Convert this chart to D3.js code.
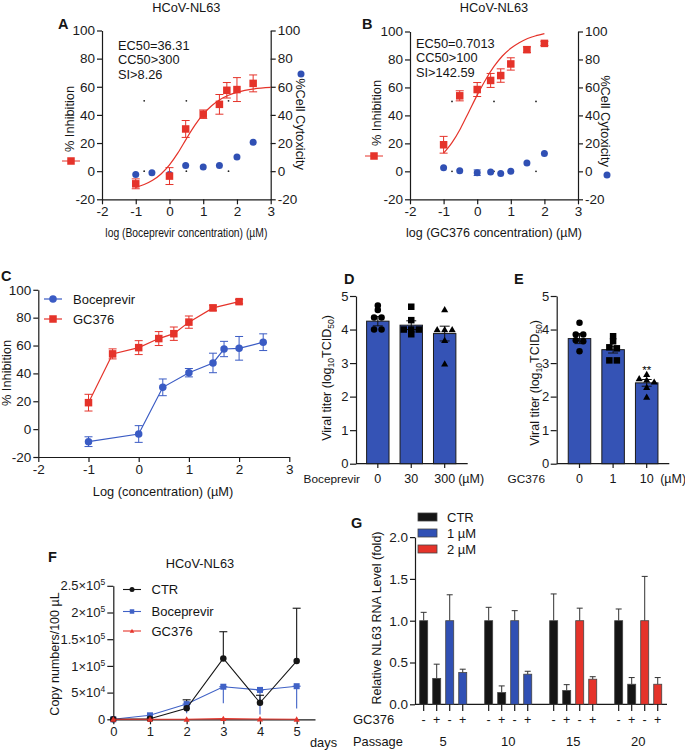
<!DOCTYPE html>
<html>
<head>
<meta charset="utf-8">
<script src="https://cdn.jsdelivr.net/npm/d3@7"></script>
<style>body{margin:0;background:#fff}</style>
</head>
<body>
<div id="chart"></div>
<script>
const FONT = '"Liberation Sans", Arial, Helvetica, sans-serif'
const RED = '#e5332a', BLUE = '#3050b4', BLACK = '#151515'
const TICK = 13.5

// ---- Boceprevir dose response (A, C) ----
const bocLog = [-1, 0, 0.48, 1, 1.48, 1.7, 2, 2.48]
const bocInhib = [-9, -3.5, 30, 40.5, 47.5, 57.5, 58, 62.4]
const bocInhibErr = [3.5, 6, 6, 3, 7, 5.5, 8.5, 6]
const bocToxLog = [-1, -0.52, 0, 0.48, 1, 1.48, 2, 2.48]
const bocTox = [-2.4, -1.2, -2.4, 4, 3, 4, 10, 20.5]
const bocFitLog = [-1, -0.75, -0.5, -0.25, 0, 0.25, 0.5, 0.75, 1, 1.25, 1.5, 1.75, 2, 2.5, 3]
const bocFit = [-11.5, -9.5, -6.5, -2, 4.5, 13, 23, 32.5, 40.5, 46.5, 51, 54, 56, 58.5, 59.5]
const bocStats = ['EC50=36.31', 'CC50>300', 'SI>8.26']

// ---- GC376 dose response (B, C) ----
const gcLog = [-1, -0.52, 0, 0.4, 0.7, 1, 1.48, 2]
const gcInhib = [19, 54, 58.5, 65, 68.5, 76.8, 87, 91.5]
const gcInhibErr = [6, 3.6, 5, 5, 4.8, 4.4, 2, 1.5]
const gcTox = [2.6, 0.5, -1, -0.5, -1.5, 0, 6, 12.7]
const gcToxErr = [0, 0, 2, 0, 0, 0, 0, 0]
const gcFitLog = [-1, -0.75, -0.5, -0.25, 0, 0.25, 0.5, 0.75, 1, 1.25, 1.5, 1.75, 2]
const gcFit = [13, 20.5, 30.5, 42.5, 54.5, 65.5, 75, 82.5, 88, 92, 95, 97, 98.5]
const gcStats = ['EC50=0.7013', 'CC50>100', 'SI>142.59']

// stray dots printed by the plotting software
const strayLog = [-0.75, 0.5, 1.75]
const strayVal = [0, 50]

// ---- viral titer (D, E) ----
const bocDoses = ['0', '30', '300']
const bocTiter = [4.25, 4.13, 3.88]
const bocTiterErr = [0.14, 0.13, 0.22]
const bocTiterPts = [[4.72, 4.58, 4.36, 4.36, 4.0, 4.0], [4.68, 4.28, 4.0, 4.0, 4.0, 3.86], [4.6, 4.0, 4.0, 4.0, 3.68, 2.98]]
const gcDoses = ['0', '1', '10']
const gcTiter = [3.73, 3.4, 2.41]
const gcTiterErr = [0.15, 0.1, 0.1]
const gcTiterPts = [[4.2, 3.85, 3.85, 3.68, 3.65, 3.35], [3.8, 3.65, 3.47, 3.44, 3.08, 3.08], [2.67, 2.54, 2.5, 2.44, 2.28, 1.99]]
const titerMarks = ['circle', 'square', 'triangle']

// ---- copy numbers (F) ----
const days = [0, 1, 2, 3, 4, 5]
const ctrCopies = [0, 1000, 20500, 114000, 31000, 109000]
const ctrErrUp = [0, 0, 16000, 50000, 14000, 99000]
const bocCopies = [0, 7500, 28500, 61000, 55000, 62000]
const bocErrDown = [0, 0, 17000, 31000, 46000, 42000]
const gcCopies = [0, 0, 0, 1200, 500, 0]
const copyTicks = [0, 5e4, 1e5, 1.5e5, 2e5, 2.5e5]

// ---- passage RNA level (G) ----
const passages = ['5', '10', '15', '20']
const gcSign = ['-', '+', '-', '+']
const passageDose = ['1 µM', '1 µM', '2 µM', '2 µM']
const rnaLevel = [[1.0, 0.31, 1.0, 0.38], [1.0, 0.14, 1.0, 0.36], [1.0, 0.165, 1.0, 0.30], [1.0, 0.24, 1.0, 0.24]]
const rnaErr = [[0.10, 0.17, 0.31, 0.04], [0.16, 0.08, 0.12, 0.035], [0.32, 0.07, 0.15, 0.03], [0.14, 0.08, 0.53, 0.08]]
const gLegend = ['CTR', '1 µM', '2 µM']
const gColor = {'CTR': BLACK, '1 µM': '#3050b4', '2 µM': '#e5332a'}

const svg = d3.select('#chart').append('svg')
  .attr('width', 685).attr('height', 750)
  .style('font-family', FONT)

function styleAxis(sel, size = TICK) {
  sel.attr('font-family', FONT).attr('font-size', size)
  sel.selectAll('path,line').attr('stroke', '#1a1a1a').attr('stroke-width', 1.2)
  sel.selectAll('text').attr('fill', '#1a1a1a')
}

function txt(g, x, y, s, o = {}) {
  return g.append('text').attr('x', x).attr('y', y).text(s)
    .attr('font-size', o.size || 12.5)
    .attr('font-weight', o.bold ? 'bold' : null)
    .attr('text-anchor', o.anchor || 'start')
    .attr('fill', o.fill || BLACK)
}

// rotated text centred on (cx, cy)
function vtxt(g, cx, cy, s, rot, size = 12.5) {
  return g.append('text')
    .attr('transform', `translate(${cx},${cy}) rotate(${rot})`)
    .attr('text-anchor', 'middle').attr('dy', '0.35em')
    .attr('font-size', size).attr('fill', BLACK).text(s)
}

function errBar(g, cx, y1, y2, cap, color, sw, caps = 'both') {
  g.append('line').attr('x1', cx).attr('x2', cx).attr('y1', y1).attr('y2', y2)
    .attr('stroke', color).attr('stroke-width', sw)
  if (caps !== 'bottom')
    g.append('line').attr('x1', cx - cap / 2).attr('x2', cx + cap / 2).attr('y1', y1).attr('y2', y1)
      .attr('stroke', color).attr('stroke-width', sw)
  if (caps !== 'top')
    g.append('line').attr('x1', cx - cap / 2).attr('x2', cx + cap / 2).attr('y1', y2).attr('y2', y2)
      .attr('stroke', color).attr('stroke-width', sw)
}

function marker(g, shape, cx, cy, size, color) {
  if (shape === 'circle')
    g.append('circle').attr('cx', cx).attr('cy', cy).attr('r', size / 2).attr('fill', color)
  else if (shape === 'square')
    g.append('rect').attr('x', cx - size / 2).attr('y', cy - size / 2)
      .attr('width', size).attr('height', size).attr('fill', color)
  else
    g.append('path').attr('transform', `translate(${cx},${cy + size * 0.1})`)
      .attr('d', d3.symbol(d3.symbolTriangle, size * size * 0.45)()).attr('fill', color)
}

// ---------- A and B ----------
function doseResponse(p) {
  const g = svg.append('g')
  const x = d3.scaleLinear().domain([-2, 3]).range([p.x0, p.x1])
  const y = d3.scaleLinear().domain([-20, 100]).range([199.3, p.yTop])
  const yt = [-20, 0, 20, 40, 60, 80, 100]
  g.append('g').attr('transform', `translate(${p.x0},0)`)
    .call(d3.axisLeft(y).tickValues(yt).tickFormat(d => d).tickSize(5).tickSizeOuter(0).tickPadding(2))
    .call(styleAxis)
  g.append('g').attr('transform', `translate(${p.x1},0)`)
    .call(d3.axisRight(y).tickValues(yt).tickFormat(d => d).tickSize(5).tickSizeOuter(0).tickPadding(2))
    .call(styleAxis)
  g.append('g').attr('transform', 'translate(0,199.3)')
    .call(d3.axisBottom(x).tickValues([-2, -1, 0, 1, 2, 3]).tickFormat(d => d).tickSize(5).tickSizeOuter(0).tickPadding(2))
    .call(styleAxis)

  strayLog.forEach(a => strayVal.forEach(v =>
    g.append('circle').attr('cx', x(a)).attr('cy', y(v)).attr('r', 0.9).attr('fill', '#222')))

  g.append('path').datum(d3.zip(p.fitX, p.fitY))
    .attr('d', d3.line().x(d => x(d[0])).y(d => y(d[1])).curve(d3.curveMonotoneX))
    .attr('fill', 'none').attr('stroke', RED).attr('stroke-width', 1.2)

  p.toxX.forEach((v, i) => {
    if (p.toxErr && p.toxErr[i]) errBar(g, x(v), y(p.tox[i] + p.toxErr[i]), y(p.tox[i] - p.toxErr[i]), 7, BLUE, 1)
    marker(g, 'circle', x(v), y(p.tox[i]), 7, BLUE)
  })
  p.inhX.forEach((v, i) => {
    errBar(g, x(v), y(p.inh[i] + p.inhErr[i]), y(p.inh[i] - p.inhErr[i]), 8, RED, 1)
    marker(g, 'square', x(v), y(p.inh[i]), 7.5, RED)
  })

  p.stats.forEach((s, i) => txt(g, p.statsX, p.statsY + i * 14.5, s, {size: 12.8}))
  txt(g, (p.x0 + p.x1) / 2, 12, 'HCoV-NL63', {anchor: 'middle', size: 12.8})
  const xt = txt(g, (p.x0 + p.x1) / 2, 236.5, p.xTitle, {anchor: 'middle', size: 12.5})
  if (p.xTitleLen) xt.attr('textLength', p.xTitleLen).attr('lengthAdjust', 'spacingAndGlyphs')
  txt(g, p.letterX, 28.5, p.letter, {bold: true, size: 14.5})

  vtxt(g, p.leftLabel[0], p.leftLabel[1], '% Inhibition', -90, 12.8)
  vtxt(g, p.rightLabel[0], p.rightLabel[1], '%Cell Cytoxicity', 90, 12.8)
  // legend symbols next to axis titles
  g.append('line').attr('x1', p.redKey[0] - 9).attr('x2', p.redKey[0] + 9)
    .attr('y1', p.redKey[1]).attr('y2', p.redKey[1]).attr('stroke', RED).attr('stroke-width', 1)
  marker(g, 'square', p.redKey[0], p.redKey[1], 7.5, RED)
  marker(g, 'circle', p.blueKey[0], p.blueKey[1], 7, BLUE)
}

doseResponse({x0: 102, x1: 270.7, yTop: 30.5, inhX: bocLog, inh: bocInhib, inhErr: bocInhibErr,
  toxX: bocToxLog, tox: bocTox, toxErr: null, fitX: bocFitLog, fitY: bocFit,
  stats: bocStats, statsX: 118, statsY: 49.5, letter: 'A', letterX: 58,
  xTitle: 'log (Boceprevir concentration) (µM)', xTitleLen: 162,
  leftLabel: [70, 119], rightLabel: [300, 124], redKey: [71, 161], blueKey: [301, 74]})

doseResponse({x0: 410, x1: 578, yTop: 31.5, inhX: gcLog, inh: gcInhib, inhErr: gcInhibErr,
  toxX: gcLog, tox: gcTox, toxErr: gcToxErr, fitX: gcFitLog, fitY: gcFit,
  stats: gcStats, statsX: 416, statsY: 47.5, letter: 'B', letterX: 362,
  xTitle: 'log (GC376 concentration) (µM)', xTitleLen: null,
  leftLabel: [377, 113], rightLabel: [605, 121], redKey: [374, 156], blueKey: [607, 175]})

// ---------- C ----------
{
  const g = svg.append('g')
  const x = d3.scaleLinear().domain([-2, 3]).range([38.3, 289.3])
  const y = d3.scaleLinear().domain([-20, 100]).range([457, 289.8])
  g.append('g').attr('transform', 'translate(38.3,0)')
    .call(d3.axisLeft(y).tickValues([-20, 0, 20, 40, 60, 80, 100]).tickFormat(d => d).tickSize(5).tickSizeOuter(0).tickPadding(2))
    .call(styleAxis)
  g.append('g').attr('transform', 'translate(0,457)')
    .call(d3.axisBottom(x).tickValues([-2, -1, 0, 1, 2, 3]).tickFormat(d => d).tickSize(5).tickSizeOuter(0).tickPadding(2))
    .call(styleAxis)
  const series = [
    {xs: bocLog, ys: bocInhib, es: bocInhibErr, color: '#3a5bc4', shape: 'circle', size: 7.5, name: 'Boceprevir'},
    {xs: gcLog, ys: gcInhib, es: gcInhibErr, color: RED, shape: 'square', size: 7.5, name: 'GC376'}
  ]
  series.forEach((s, k) => {
    g.append('path').datum(d3.zip(s.xs, s.ys))
      .attr('d', d3.line().x(d => x(d[0])).y(d => y(d[1])))
      .attr('fill', 'none').attr('stroke', s.color).attr('stroke-width', 1.2)
    s.xs.forEach((v, i) => {
      errBar(g, x(v), y(s.ys[i] + s.es[i]), y(s.ys[i] - s.es[i]), 8, s.color, 1)
      marker(g, s.shape, x(v), y(s.ys[i]), s.size, s.color)
    })
    const ly = 299 + k * 20
    g.append('line').attr('x1', 44).attr('x2', 62).attr('y1', ly).attr('y2', ly).attr('stroke', s.color).attr('stroke-width', 1.2)
    marker(g, s.shape, 53, ly, s.size, s.color)
    txt(g, 73, ly + 4.5, s.name, {size: 13})
  })
  txt(g, 163, 496, 'Log (concentration) (µM)', {anchor: 'middle', size: 12.8})
  vtxt(g, 7, 373, '% Inhibition', -90, 12.8)
  txt(g, 1, 281, 'C', {bold: true, size: 14.5})
}

// ---------- D and E ----------
function titerPanel(p) {
  const g = svg.append('g')
  const x = d3.scaleBand().domain(p.doses).range(p.range).paddingInner(0.33).paddingOuter(0.165)
  const y = d3.scaleLinear().domain([0, 5]).range([463.7, 296])
  g.append('g').attr('transform', `translate(${p.axisX},0)`)
    .call(d3.axisLeft(y).ticks(5).tickFormat(d3.format('d')).tickSize(6).tickSizeOuter(0).tickPadding(1.5))
    .call(styleAxis, 13)
  g.append('line').attr('x1', p.axisX).attr('x2', p.axisEnd).attr('y1', 463.7).attr('y2', 463.7)
    .attr('stroke', '#1a1a1a').attr('stroke-width', 1.2)
  const bw = x.bandwidth()
  p.doses.forEach((d, i) => {
    const cx = x(d) + bw / 2
    g.append('rect').attr('x', x(d)).attr('y', y(p.titer[i])).attr('width', bw)
      .attr('height', y(0) - y(p.titer[i])).attr('fill', '#3553b5').attr('stroke', '#1a1a1a').attr('stroke-width', 1)
    errBar(g, cx, y(p.titer[i] + p.err[i]), y(p.titer[i] - p.err[i]), 10, '#111', 1)
    // spread points with equal values side by side
    const vals = p.pts[i].slice().sort((a, b) => b - a)
    const groups = []
    vals.forEach(v => {
      const last = groups[groups.length - 1]
      if (last && Math.abs(last[last.length - 1] - v) < 0.07) last.push(v)
      else groups.push([v])
    })
    groups.forEach(grp => grp.forEach((v, j) =>
      marker(g, titerMarks[i], cx + (j - (grp.length - 1) / 2) * 7.5, y(v), titerMarks[i] === 'triangle' ? 7 : 6.5, '#000')))
    g.append('line').attr('x1', cx).attr('x2', cx).attr('y1', 463.7).attr('y2', 468)
      .attr('stroke', '#1a1a1a').attr('stroke-width', 1.2)
    txt(g, cx, 483, d, {anchor: 'middle', size: 12.5})
  })
  const lastX = x(p.doses[2]) + bw / 2
  txt(g, lastX + 13.5, 483, '(µM)', {size: 12.5})
  txt(g, p.drugX, 483, p.drug, {anchor: 'end', size: 11.8})
  const yl = g.append('text').attr('transform', `translate(${p.yLabel[0]},${p.yLabel[1]}) rotate(-90)`)
    .attr('text-anchor', 'middle').attr('dy', '0.35em').attr('font-size', 12.5).attr('fill', BLACK)
  yl.append('tspan').text('Viral titer (log')
  yl.append('tspan').attr('font-size', 8.5).attr('dy', 3).text('10')
  yl.append('tspan').attr('dy', -3).text('TCID')
  yl.append('tspan').attr('font-size', 8.5).attr('dy', 3).text('50')
  yl.append('tspan').attr('dy', -3).text(')')
  if (p.star) txt(g, lastX, 374, '**', {anchor: 'middle', size: 11.5, fill: '#000'})
  txt(g, p.letterX, 284, p.letter, {bold: true, size: 14.5})
}

titerPanel({doses: bocDoses, titer: bocTiter, err: bocTiterErr, pts: bocTiterPts,
  range: [361.1, 461.4], axisX: 356, axisEnd: 467.7, drug: 'Boceprevir', drugX: 360,
  yLabel: [327, 378], letter: 'D', letterX: 344, star: false})
titerPanel({doses: gcDoses, titer: gcTiter, err: gcTiterErr, pts: gcTiterPts,
  range: [562.7, 663.5], axisX: 556.7, axisEnd: 669.3, drug: 'GC376', drugX: 545,
  yLabel: [535, 383], letter: 'E', letterX: 514, star: true})

// ---------- F ----------
{
  const g = svg.append('g')
  const x = d3.scaleLinear().domain([0, 5.5]).range([113.3, 315])
  const y = d3.scaleLinear().domain([0, 250000]).range([719.3, 585.8])
  const ya = g.append('g').attr('transform', 'translate(113.3,0)')
    .call(d3.axisLeft(y).tickValues(copyTicks).tickFormat('').tickSize(6).tickSizeOuter(0))
    .call(styleAxis, 13)
  ya.selectAll('.tick').each(function (d) {
    const t = d3.select(this).append('text').attr('x', -8).attr('dy', '0.32em')
      .attr('text-anchor', 'end').attr('fill', '#1a1a1a').attr('font-size', 13)
    if (d === 0) { t.text('0'); return }
    const e = Math.floor(Math.log10(d)), m = d / Math.pow(10, e)
    t.append('tspan').text(`${m}×10`)
    t.append('tspan').attr('font-size', 8.5).attr('dy', -5).text(e)
  })
  g.append('g').attr('transform', 'translate(0,719.3)')
    .call(d3.axisBottom(x).tickValues(days).tickFormat(d => d).tickSize(5).tickSizeOuter(0).tickPadding(2))
    .call(styleAxis, 13)
  txt(g, 310, 746.5, 'days', {size: 12.8})

  const line = d3.line().x(d => x(d[0])).y(d => y(d[1]))
  const fs = [
    {ys: bocCopies, color: '#4062c6', shape: 'square', size: 6, name: 'Boceprevir', err: bocErrDown, dir: -1},
    {ys: ctrCopies, color: BLACK, shape: 'circle', size: 6.5, name: 'CTR', err: ctrErrUp, dir: 1},
    {ys: gcCopies, color: RED, shape: 'triangle', size: 6, name: 'GC376', err: null, dir: 0}
  ]
  fs.forEach(s => {
    s.ys.forEach((v, i) => {
      if (s.err && s.err[i])
        errBar(g, x(days[i]), y(v + s.dir * s.err[i]), y(v), 8, s.color, 1.1, s.dir > 0 ? 'top' : 'bottom')
    })
  })
  fs.forEach(s => {
    g.append('path').datum(d3.zip(days, s.ys)).attr('d', line)
      .attr('fill', 'none').attr('stroke', s.color).attr('stroke-width', 1.1)
    s.ys.forEach((v, i) => marker(g, s.shape, x(days[i]), y(v), s.size, s.color))
  })
  const legendOrder = [fs[1], fs[0], fs[2]]
  const legendY = [589.5, 611.5, 631]
  legendOrder.forEach((s, k) => {
    g.append('line').attr('x1', 123).attr('x2', 141).attr('y1', legendY[k]).attr('y2', legendY[k])
      .attr('stroke', s.color).attr('stroke-width', 1.1)
    marker(g, s.shape, 132, legendY[k], s.size - 1.5, s.color)
    txt(g, 151.5, legendY[k] + 4.5, s.name, {size: 13})
  })
  txt(g, 200, 568, 'HCoV-NL63', {anchor: 'middle', size: 12.8})
  vtxt(g, 55, 654, 'Copy numbers/100 µL', -90, 12.5)
  txt(g, 48, 562, 'F', {bold: true, size: 14.5})
}

// ---------- G ----------
{
  const g = svg.append('g')
  const x0 = d3.scaleBand().domain(passages).range([417.2, 664.2]).paddingInner(0.2).paddingOuter(0)
  const x1 = d3.scaleBand().domain([0, 1, 2, 3]).range([0, x0.bandwidth()]).paddingInner(0.385).paddingOuter(0.19)
  const y = d3.scaleLinear().domain([0, 2]).range([704.3, 537.1])
  g.append('g').attr('transform', 'translate(415,0)')
    .call(d3.axisLeft(y).tickValues([0, 0.5, 1, 1.5, 2]).tickFormat(d3.format('.1f')).tickSize(5).tickSizeOuter(0).tickPadding(2))
    .call(styleAxis, 13.5)
  g.append('line').attr('x1', 415).attr('x2', 667).attr('y1', 704.3).attr('y2', 704.3)
    .attr('stroke', '#1a1a1a').attr('stroke-width', 1.2)
  const bw = x1.bandwidth()
  passages.forEach((p, i) => {
    rnaLevel[i].forEach((v, j) => {
      const bx = x0(p) + x1(j), cx = bx + bw / 2
      const col = j < 2 ? gColor['CTR'] : gColor[passageDose[i]]
      errBar(g, cx, y(v + rnaErr[i][j]), y(v), 6, '#333', 1, 'top')
      g.append('rect').attr('x', bx).attr('y', y(v)).attr('width', bw).attr('height', y(0) - y(v))
        .attr('fill', col).attr('stroke', '#444').attr('stroke-width', 0.8)
      g.append('line').attr('x1', cx).attr('x2', cx).attr('y1', 704.3).attr('y2', 711)
        .attr('stroke', '#1a1a1a').attr('stroke-width', 1.2)
      txt(g, cx, 723.5, gcSign[j], {anchor: 'middle', size: 12.5})
    })
    txt(g, x0(p) + x0.bandwidth() / 2, 746, p, {anchor: 'middle', size: 13})
  })
  txt(g, 353, 723.5, 'GC376', {size: 13})
  txt(g, 353, 746, 'Passage', {size: 12.8})
  gLegend.forEach((name, k) => {
    const ly = 517 + k * 16
    g.append('rect').attr('x', 418).attr('y', ly - 4).attr('width', 19).attr('height', 8)
      .attr('fill', gColor[name]).attr('stroke', '#444').attr('stroke-width', 0.8)
    txt(g, 447, ly + 4.5, name, {size: 13})
  })
  vtxt(g, 377, 618, 'Relative NL63 RNA Level (fold)', -90, 12.5)
  txt(g, 351, 528, 'G', {bold: true, size: 14.5})
}
</script>
</body>
</html>
